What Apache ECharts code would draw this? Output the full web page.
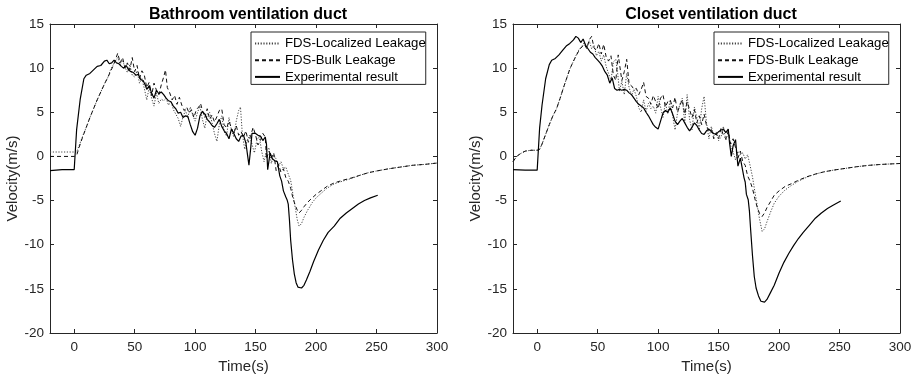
<!DOCTYPE html>
<html>
<head>
<meta charset="utf-8">
<script src="https://cdn.jsdelivr.net/npm/echarts@6/dist/echarts.min.js"></script>
<style>
html,body{margin:0;padding:0;background:#fff;}
#chart{width:917px;height:379px;}
</style>
</head>
<body>
<div id="chart"></div>
<script>
const panelTitles = ['Bathroom ventilation duct', 'Closet ventilation duct'];
const seriesNames = ['FDS-Localized Leakage', 'FDS-Bulk Leakage', 'Experimental result'];
const xTicks = [0, 50, 100, 150, 200, 250, 300];
const yTicks = [-20, -15, -10, -5, 0, 5, 10, 15];

// ---- Bathroom ventilation duct ----
const bathLocal = [[-20,0.5],[-10,0.5],[0,0.5],[2,0.5],[4,1.2],[7,2.3],[10,3.3],[13,4.4],[16,5.4],[19,6.4],[22,7.3],[25,8.2],[28,9.0],[30,9.8],[32,10.3],[34,10.8],[36,11.2],[38,10.4],[40,10.9],[42,10.1],[44,9.5],[46,10.4],[48,9.2],[50,9.0],[52,9.7],[54,8.3],[56,8.8],[58,7.7],[60,6.4],[62,7.8],[64,6.6],[66,5.7],[68,7.2],[70,6.0],[72,6.5],[74,6.3],[76,6.6],[78,5.8],[80,6.3],[82,5.3],[84,4.8],[86,4.3],[88,3.4],[90,4.5],[92,5.2],[94,4.4],[96,5.6],[98,4.7],[100,4.0],[102,5.0],[104,5.7],[106,4.2],[108,3.2],[110,4.8],[112,5.0],[114,3.8],[116,2.6],[118,1.7],[120,3.6],[122,4.6],[124,2.8],[126,2.3],[128,4.4],[130,3.0],[132,2.2],[134,4.0],[136,5.2],[137.5,5.6],[139,2.6],[141,0.8],[143,1.8],[145,2.4],[147,1.4],[149,0.4],[151,1.8],[153,2.3],[155,0.6],[157,-0.6],[159,0.6],[161,1.0],[163,-0.8],[165,0.2],[167,-0.3],[169,-1.1],[171,-0.6],[173,-1.4],[175,-1.2],[177,-2.0],[179,-2.7],[181,-4.4],[183,-6.0],[184.5,-7.2],[186,-7.9],[188,-7.6],[190,-6.9],[193,-6.1],[197,-5.2],[200,-4.7],[204,-4.2],[209,-3.6],[215,-3.1],[222,-2.8],[229,-2.5],[236,-2.15],[243,-1.85],[250,-1.65],[260,-1.4],[270,-1.2],[280,-1.0],[290,-0.9],[300,-0.75]];
const bathBulk = [[-20,0.0],[-10,0.0],[0,0.0],[2,0.1],[4,1.0],[7,2.2],[10,3.3],[13,4.4],[16,5.4],[19,6.4],[22,7.3],[25,8.2],[28,9.0],[30,9.6],[32,10.2],[34,10.9],[36,11.7],[38,10.6],[40,11.2],[42,10.0],[44,10.6],[46,9.8],[48,11.2],[50,9.6],[52,10.3],[54,8.8],[56,9.7],[58,9.2],[60,7.8],[62,8.4],[64,6.9],[66,8.3],[68,7.5],[70,7.0],[72,8.1],[74,9.0],[75.5,9.8],[77,7.8],[79,7.2],[81,6.4],[83,6.9],[85,5.9],[87,6.7],[89,5.8],[91,5.2],[93,5.6],[95,4.9],[97,5.3],[99,4.4],[101,5.3],[103,5.6],[104.5,6.0],[106,5.2],[108,4.4],[110,5.4],[112,4.2],[114,4.7],[116,3.9],[118,4.5],[120,5.2],[122,5.4],[124,3.6],[126,3.2],[128,4.0],[130,3.2],[132,2.6],[134,3.5],[136,2.4],[138,2.8],[140,2.2],[142,2.9],[144,1.6],[146,2.4],[148,3.3],[150,2.4],[152,1.3],[154,1.8],[156,2.6],[158,2.2],[159,-0.3],[161,0.6],[163,-0.2],[165,0.4],[167,-1.6],[169,-0.9],[171,-1.8],[173,-1.4],[175,-2.4],[177,-2.8],[179,-3.6],[181,-4.8],[183,-5.6],[184.5,-6.1],[186,-6.4],[188,-6.1],[190,-5.7],[193,-5.2],[196,-4.8],[200,-4.3],[204,-3.9],[209,-3.4],[215,-3.0],[222,-2.7],[229,-2.45],[236,-2.15],[243,-1.85],[250,-1.65],[260,-1.4],[270,-1.2],[280,-1.0],[290,-0.9],[300,-0.75]];
const bathExp = [[-20,-1.6],[-10,-1.5],[0,-1.5],[0.5,-1.4],[2,3.0],[5,6.5],[8,8.8],[10,9.2],[13,9.4],[16,9.8],[19,10.2],[22,10.3],[25,10.8],[27,10.9],[29,10.5],[31,10.6],[33,10.9],[35,10.6],[37,10.5],[39,10.2],[41,10.0],[43,10.3],[45,9.8],[47,9.6],[49,9.5],[51,9.2],[53,9.3],[55,8.7],[57,8.6],[59,8.0],[60,7.6],[62,8.0],[64,7.2],[66,6.6],[68,7.5],[70,7.1],[72,7.3],[74,7.0],[76,6.6],[78,6.3],[80,6.2],[82,5.7],[84,5.4],[86,4.9],[88,5.0],[90,4.4],[92,4.6],[94,4.5],[96,3.6],[98,2.8],[100,2.4],[102,3.2],[104,4.6],[106,5.1],[108,4.8],[110,4.2],[112,3.9],[114,3.5],[116,3.3],[118,3.7],[120,4.2],[122,3.4],[124,2.9],[126,2.6],[128,2.0],[130,3.1],[132,2.6],[134,2.0],[136,1.7],[138,2.3],[140,2.4],[142,1.5],[144.5,-1.0],[146,1.0],[147,2.6],[150,2.6],[152,2.4],[154,2.3],[156,1.8],[158,2.2],[159,1.4],[160,-1.5],[162,0.4],[164,-0.3],[166,-0.5],[168,-0.6],[170,-2.2],[171.5,-2.8],[173,-3.9],[175,-4.6],[176,-4.9],[177,-5.4],[178,-7.2],[179,-9.5],[180.5,-11.7],[182,-13.3],[183.5,-14.3],[185,-14.8],[186.5,-15.0],[188,-14.9],[190,-14.6],[192,-14.0],[195,-13.0],[198,-11.9],[202,-10.6],[206,-9.5],[210,-8.6],[215,-7.9],[220,-7.0],[225,-6.4],[230,-5.9],[235,-5.4],[240,-5.0],[245,-4.7],[251,-4.4]];

// ---- Closet ventilation duct ----
const closetLocal = [[-20,-0.6],[-17,0.0],[-14,0.3],[-10,0.6],[-5,0.7],[0,0.7],[2,0.8],[4,1.4],[7,2.5],[10,3.6],[13,4.6],[16,5.4],[19,6.6],[22,7.9],[25,9.1],[27,9.9],[30,10.8],[33,11.7],[35,12.2],[37,12.5],[39,12.9],[41,12.3],[43,13.1],[45,12.2],[47,12.6],[49,11.4],[51,11.9],[53,10.8],[55,11.5],[57,10.2],[59,9.4],[61,8.6],[63,10.7],[65,11.0],[66.5,9.5],[68,7.4],[70,8.5],[72,7.0],[74,9.4],[76,7.8],[78,6.9],[80,7.6],[82,6.8],[84,5.5],[86,5.0],[88,6.4],[90,5.1],[92,6.0],[94,5.4],[96,5.7],[98,4.9],[100,6.8],[102,5.6],[104,4.4],[106,6.1],[108,4.8],[110,6.4],[112,4.6],[114,3.0],[116,4.9],[118,5.9],[120,6.6],[122,3.8],[124,7.0],[126,4.2],[128,3.0],[130,5.6],[132,4.4],[134,3.0],[136,5.4],[138,6.8],[140,3.8],[142,2.0],[144,3.4],[146,2.3],[148,2.8],[150,1.8],[152,2.2],[154,3.4],[156,1.8],[158,2.8],[160,1.2],[162,0.5],[164,-0.4],[166,0.6],[168,0.2],[170,0.4],[172,-0.3],[174,0.2],[176,-1.0],[178,-2.3],[180,-4.0],[182,-5.6],[184,-7.2],[186,-8.5],[188,-8.2],[190,-7.4],[193,-6.3],[196,-5.3],[200,-4.5],[205,-3.8],[210,-3.3],[216,-2.8],[223,-2.35],[230,-2.0],[237,-1.75],[245,-1.55],[255,-1.35],[265,-1.15],[275,-1.0],[285,-0.9],[300,-0.8]];
const closetBulk = [[-20,-0.6],[-17,0.0],[-14,0.3],[-10,0.6],[-5,0.7],[0,0.7],[2,0.8],[4,1.4],[7,2.5],[10,3.6],[13,4.6],[16,5.4],[19,6.6],[22,7.9],[25,9.1],[27,9.9],[30,10.8],[33,11.6],[35,12.1],[37,12.4],[39,12.7],[41,12.2],[43,13.2],[45,13.6],[47,12.3],[49,12.0],[51,12.8],[53,11.6],[55,12.7],[57,11.3],[59,10.8],[61,11.4],[63,9.2],[65,8.6],[67,11.5],[68.5,11.3],[70,8.6],[72,9.6],[74,11.0],[76,8.2],[78,8.0],[80,7.6],[82,7.7],[84,7.0],[86,7.6],[88,8.4],[90,6.8],[92,6.6],[94,5.9],[96,6.9],[98,6.2],[100,5.4],[102,6.6],[104,7.0],[106,5.6],[108,6.2],[110,6.4],[112,5.5],[114,6.7],[116,5.0],[118,5.8],[120,6.4],[122,4.8],[124,6.2],[126,5.3],[128,4.4],[130,5.3],[132,3.8],[134,4.6],[136,3.6],[138,4.8],[140,3.5],[142,2.9],[144,3.1],[146,2.0],[148,2.6],[150,2.0],[152,3.2],[154,2.4],[156,2.0],[158,2.9],[160,1.4],[162,2.0],[164,1.0],[166,-0.2],[168,0.6],[170,-0.6],[172,-1.0],[174,-2.2],[176,-2.8],[178,-3.6],[180,-4.8],[182,-5.8],[184,-6.5],[186,-6.8],[188,-6.4],[190,-5.8],[193,-5.1],[196,-4.4],[200,-3.9],[205,-3.4],[210,-3.1],[216,-2.7],[223,-2.3],[230,-2.0],[237,-1.75],[245,-1.55],[255,-1.35],[265,-1.15],[275,-1.0],[285,-0.9],[300,-0.8]];
const closetExp = [[-20,-1.5],[-10,-1.55],[0,-1.55],[0.5,-1.4],[2,3.2],[4,5.8],[7,8.8],[10,10.4],[12,10.9],[15,11.1],[18,11.5],[21,12.0],[24,12.5],[27,12.8],[30,13.2],[32,13.6],[34,13.4],[36,12.9],[38,13.3],[40,12.6],[42,12.2],[44,11.8],[46,11.6],[48,11.2],[50,10.9],[52,10.6],[54,10.2],[56,9.6],[58,9.2],[60,8.3],[62,8.9],[64,7.7],[66,7.5],[68,7.6],[70,7.5],[72,7.6],[74,7.5],[76,7.2],[78,7.0],[80,6.6],[82,6.2],[84,5.9],[86,5.7],[88,5.5],[90,5.0],[92,4.6],[94,4.1],[96,3.6],[98,3.3],[100,3.1],[102,4.0],[104,4.9],[106,5.2],[108,5.0],[110,5.5],[112,4.8],[114,4.0],[116,3.6],[118,4.0],[120,4.3],[122,3.8],[124,3.3],[126,2.9],[128,3.3],[130,3.8],[132,3.5],[134,3.0],[136,2.6],[138,2.5],[140,2.9],[142,3.1],[144,2.8],[146,2.6],[148,2.5],[150,2.8],[152,3.0],[154,3.1],[156,2.7],[158,3.1],[159,1.6],[160.5,0.0],[162,1.2],[164,1.9],[166,-1.1],[168,-0.2],[169.5,-0.4],[171,-2.4],[172,-2.9],[173,-4.3],[174.5,-4.9],[175.5,-6.2],[176.5,-8.3],[178,-11.2],[179.5,-13.6],[181,-14.9],[183,-15.8],[185,-16.4],[186.5,-16.6],[188,-16.5],[190,-16.2],[193,-15.4],[196,-14.6],[200,-13.2],[204,-12.0],[208,-11.0],[212,-10.1],[216,-9.3],[220,-8.6],[225,-7.8],[230,-7.0],[235,-6.4],[240,-5.9],[245,-5.5],[251,-5.05]];

const panelData = [[bathLocal, bathBulk, bathExp], [closetLocal, closetBulk, closetExp]];

const FONT = '"Liberation Sans", Arial, Helvetica, sans-serif';
const AX = '#262626';
const gridLeft = [50, 513];
const gridW = 387, gridTop = 24, gridH = 309;

const lineStyles = [
  { color: '#444', width: 1, type: [1.2, 1.6] },
  { color: '#111', width: 1, type: [4, 3] },
  { color: '#000', width: 1.2, type: 'solid' }
];

const grids = [], xAxes = [], yAxes = [], series = [], titles = [], legends = [];
for (let p = 0; p < 2; p++) {
  grids.push({ left: gridLeft[p], top: gridTop, width: gridW, height: gridH, containLabel: false });
  const tickBase = { show: true, inside: true, length: 4, lineStyle: { color: AX, width: 1 } };
  xAxes.push({
    type: 'value', gridIndex: p, position: 'bottom', min: -20, max: 300,
    axisLine: { show: true, onZero: false, lineStyle: { color: AX, width: 1 } },
    axisTick: Object.assign({ customValues: xTicks }, tickBase),
    axisLabel: { customValues: xTicks, color: AX, fontSize: 13.5, fontFamily: FONT, margin: 7 },
    splitLine: { show: false },
    name: 'Time(s)', nameLocation: 'middle', nameGap: 26,
    nameTextStyle: { color: AX, fontSize: 15, fontFamily: FONT }
  });
  xAxes.push({
    type: 'value', gridIndex: p, position: 'top', min: -20, max: 300,
    axisLine: { show: true, onZero: false, lineStyle: { color: AX, width: 1 } },
    axisTick: Object.assign({ customValues: xTicks }, tickBase),
    axisLabel: { show: false }, splitLine: { show: false }
  });
  yAxes.push({
    type: 'value', gridIndex: p, position: 'left', min: -20, max: 15, interval: 5,
    axisLine: { show: true, onZero: false, lineStyle: { color: AX, width: 1 } },
    axisTick: tickBase,
    axisLabel: { color: AX, fontSize: 13.5, fontFamily: FONT, margin: 6 },
    splitLine: { show: false },
    name: 'Velocity(m/s)', nameLocation: 'middle', nameGap: 29,
    nameTextStyle: { color: AX, fontSize: 15, fontFamily: FONT }
  });
  yAxes.push({
    type: 'value', gridIndex: p, position: 'right', min: -20, max: 15, interval: 5,
    axisLine: { show: true, onZero: false, lineStyle: { color: AX, width: 1 } },
    axisTick: tickBase,
    axisLabel: { show: false }, splitLine: { show: false }
  });
  for (let s = 0; s < 3; s++) {
    series.push({
      name: seriesNames[s], type: 'line', xAxisIndex: p * 2, yAxisIndex: p * 2,
      data: panelData[p][s], showSymbol: false, symbol: 'none', animation: false,
      lineStyle: lineStyles[s], itemStyle: { color: lineStyles[s].color },
      z: s === 2 ? 3 : 2
    });
  }
  titles.push({
    text: panelTitles[p], left: gridLeft[p] + gridW / 2 - 0.5, top: 2, textAlign: 'center',
    textStyle: { fontSize: 16, fontWeight: 'bold', color: '#000', fontFamily: FONT }
  });
  legends.push({
    data: seriesNames, orient: 'vertical', left: [251, 714][p], top: 32,
    itemWidth: 25, itemHeight: 14, itemGap: 3.7,
    padding: [5, 0, 1, 3],
    borderColor: AX, borderWidth: 1, backgroundColor: '#fff',
    selectedMode: false,
    itemStyle: { color: 'rgba(0,0,0,0)', borderColor: 'rgba(0,0,0,0)', borderWidth: 0, opacity: 0 },
    textStyle: { fontSize: 13.2, color: '#000', fontFamily: FONT }
  });
}

const chart = echarts.init(document.getElementById('chart'), null, { renderer: 'canvas' });
chart.setOption({
  animation: false,
  backgroundColor: '#fff',
  title: titles,
  legend: legends,
  grid: grids,
  xAxis: xAxes,
  yAxis: yAxes,
  series: series
});
</script>
</body>
</html>
